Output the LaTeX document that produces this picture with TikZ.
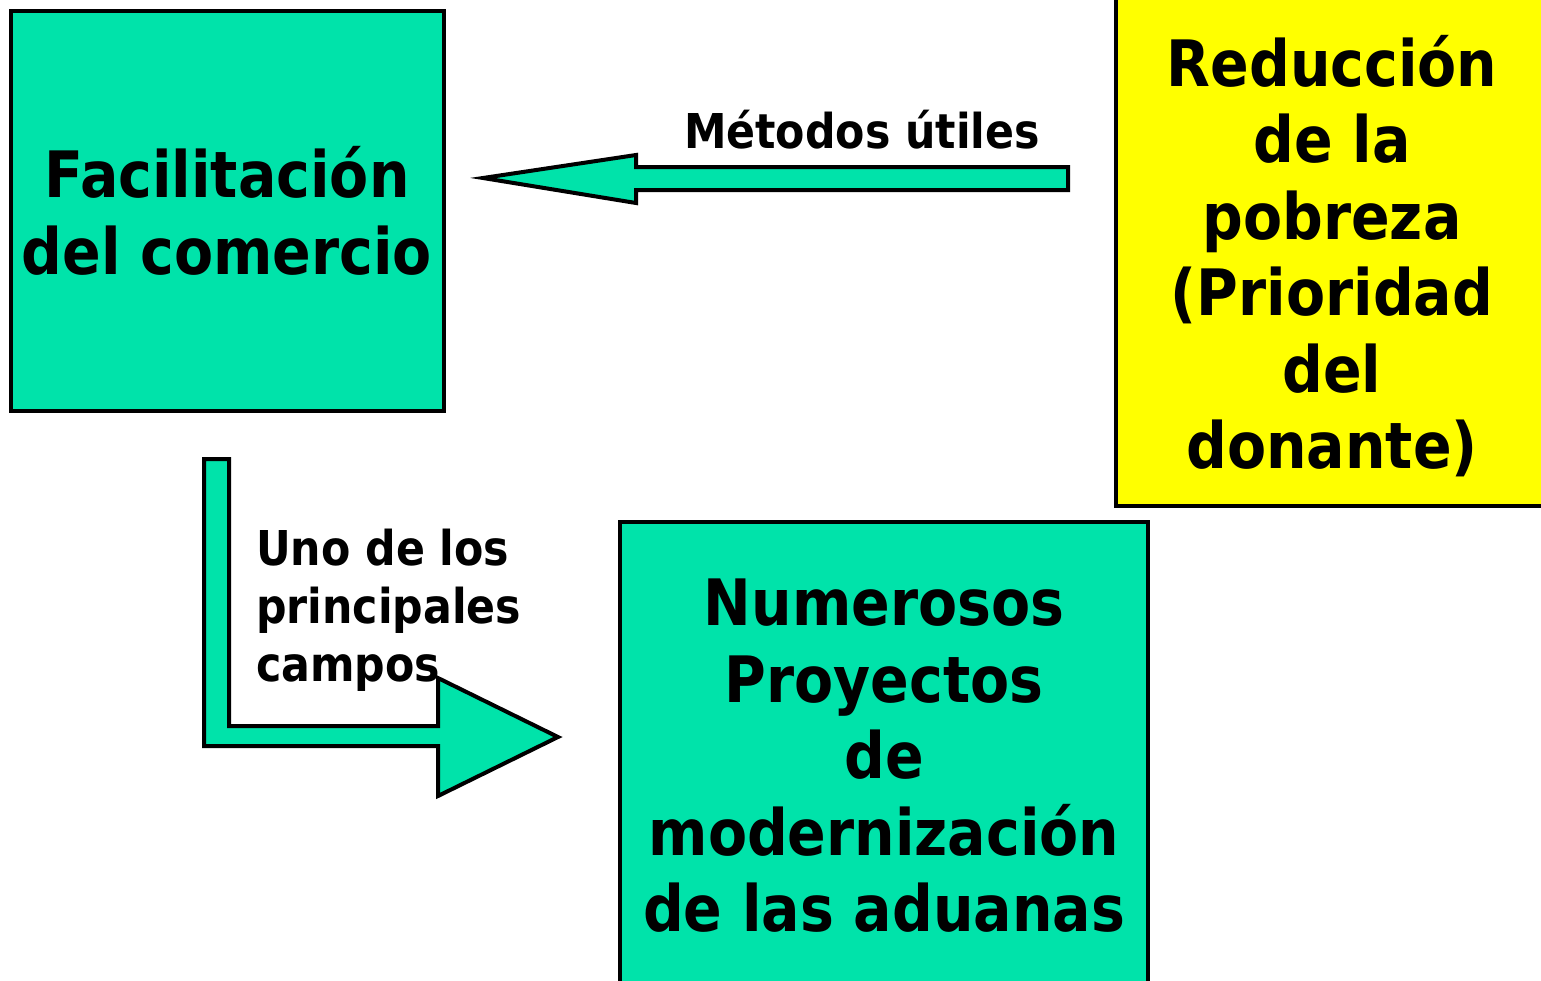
\documentclass[tikz,border=0pt]{standalone}
\usepackage{fontspec}
\newfontfamily\dvb[FakeStretch=0.89]{DejaVu Sans Bold}
\definecolor{boxgreen}{RGB}{0,227,170}
\definecolor{boxyellow}{RGB}{255,255,0}
\tikzset{
  box/.style={draw=black, line width=4pt},
  bigtext/.style={inner sep=0pt, align=center, font=\dvb\fontsize{64}{76.5}\selectfont},
  labeltext/.style={inner sep=0pt, font=\dvb\fontsize{48}{58}\selectfont},
  blockarrow/.style={draw=black, fill=boxgreen, line width=4pt, line join=miter}
}
\begin{document}
\begin{tikzpicture}[x=1pt,y=-1pt]
\useasboundingbox (0,0) rectangle (1541,980);
\begin{scope}
\clip (0,0) rectangle (1541,980);
% boxes
\draw[box, fill=boxgreen] (11,11) rectangle (444,411);
\draw[box, fill=boxyellow] (1116,-20) rectangle (1570,506);
\draw[box, fill=boxgreen] (620,522) rectangle (1148,1000);
% left block arrow
\draw[blockarrow] (1068,167) -- (636,167) -- (636,155) -- (483,178) -- (636,203) -- (636,190) -- (1068,190) -- cycle;
% bent block arrow
\draw[blockarrow] (204,459) -- (229,459) -- (229,726) -- (438,726) -- (438,678) -- (558,737) -- (438,796) -- (438,746) -- (204,746) -- cycle;
\end{scope}
% texts
\node[bigtext] (fac) at (227,211) {Facilitación\\del comercio};
\node[bigtext] (red) at (1332,256) {Reducción\\de la\\pobreza\\(Prioridad\\del\\donante)};
\node[bigtext] (num) at (884,756) {Numerosos\\Proyectos\\de\\modernización\\de las aduanas};
\node[labeltext, anchor=base] (met) at (862,148) {Métodos útiles};
\node[labeltext, anchor=west, align=left] (uno) at (256,610) {Uno de los\\principales\\campos};
\end{tikzpicture}
\end{document}
